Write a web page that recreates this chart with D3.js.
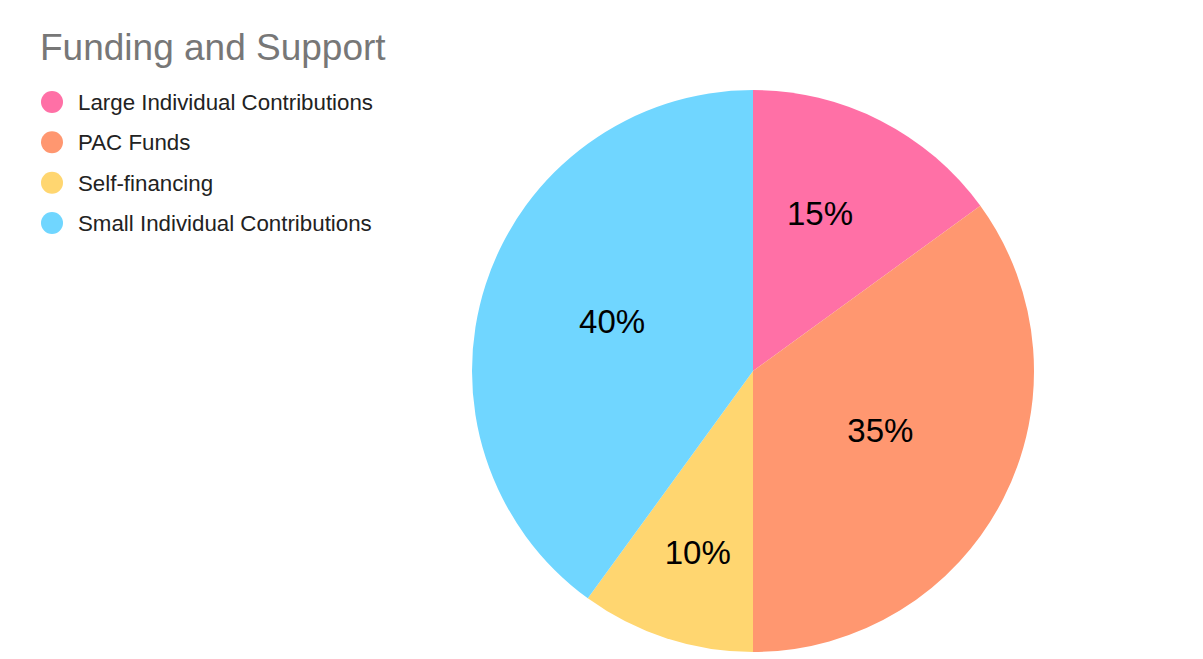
<!DOCTYPE html>
<html>
<head>
<meta charset="utf-8">
<script src="https://cdn.jsdelivr.net/npm/d3@7/dist/d3.min.js"></script>
<style>
  html, body { margin: 0; padding: 0; background: #fff; }
  svg { display: block; }
</style>
</head>
<body>
<svg id="chart" width="1203" height="659"></svg>
<script>
const title = "Funding and Support";
const categories = ["Large Individual Contributions", "PAC Funds", "Self-financing", "Small Individual Contributions"];
const values = [15, 35, 10, 40];
const colors = ["#ff70a6", "#ff9770", "#ffd670", "#70d6ff"];

// layout
const cx = 753, cy = 371, R = 281;
const labelRadiusFactor = [0.61, 0.50, 0.673, 0.532];
const labelAngleNudgeDeg = [-4, -2, -1, 1.5];

const svg = d3.select("#chart");

svg.append("text")
  .attr("x", 40).attr("y", 60)
  .attr("font-family", "'Liberation Sans', Arial, sans-serif")
  .attr("font-size", 37)
  .attr("fill", "#777777")
  .text(title);

const data = categories.map((c, i) => ({ name: c, value: values[i], i }));
const color = d3.scaleOrdinal().domain(categories).range(colors);

const pie = d3.pie().value(d => d.value).sort(null);
const arcs = pie(data);
const arc = d3.arc().innerRadius(0).outerRadius(R);

const g = svg.append("g").attr("transform", `translate(${cx},${cy})`);
g.selectAll("path.slice").data(arcs).join("path")
  .attr("class", "slice")
  .attr("d", arc)
  .attr("fill", d => color(d.data.name));

const total = d3.sum(values);
g.selectAll("text.lbl").data(arcs).join("text")
  .attr("class", "lbl")
  .attr("transform", d => {
    const r = R * labelRadiusFactor[d.data.i];
    const a = (d.startAngle + d.endAngle) / 2 + labelAngleNudgeDeg[d.data.i] * Math.PI / 180;
    return `translate(${r * Math.sin(a)},${-r * Math.cos(a)})`;
  })
  .attr("text-anchor", "middle")
  .attr("dy", "0.36em")
  .attr("font-family", "'Liberation Sans', Arial, sans-serif")
  .attr("font-size", 33)
  .attr("fill", "#000")
  .text(d => Math.round(d.data.value / total * 100) + "%");

const legend = svg.append("g");
const ly = d3.scalePoint().domain(categories).range([102, 223]);
const items = legend.selectAll("g").data(data).join("g")
  .attr("transform", d => `translate(52,${ly(d.name)})`);
items.append("circle").attr("r", 11).attr("fill", d => color(d.name));
items.append("text")
  .attr("x", 26).attr("dy", "0.36em")
  .attr("font-family", "'Liberation Sans', Arial, sans-serif")
  .attr("font-size", 22.3)
  .attr("fill", "#222")
  .text(d => d.name);
</script>
</body>
</html>
